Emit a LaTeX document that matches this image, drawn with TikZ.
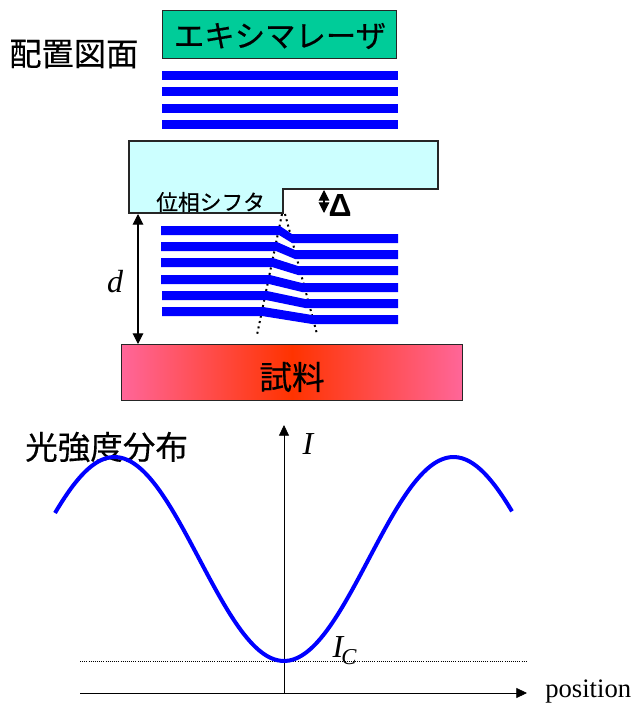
\documentclass[tikz,border=0pt]{standalone}
\usepackage{fontspec}
\setmainfont{Liberation Serif}
\newfontfamily\jp[FakeBold=0.4]{Noto Sans CJK JP}
\newfontfamily\symf{Liberation Sans}
\usetikzlibrary{arrows.meta}
\definecolor{beam}{HTML}{0000FF}
\definecolor{laser}{HTML}{00CC99}
\definecolor{shifter}{HTML}{CCFFFF}
\definecolor{spink}{HTML}{FF6699}
\definecolor{sred}{HTML}{FF3300}
\pgfdeclarehorizontalshading{samplefade}{100bp}{color(0bp)=(spink);color(25bp)=(spink);color(50bp)=(sred);color(75bp)=(spink);color(100bp)=(spink)}
\tikzset{
  boxline/.style={draw=black!85,line width=0.8pt},
  jptext/.style={inner sep=0pt,font=\jp,text=black},
  thinarrow/.style={black,line width=0.6pt,-{Triangle[length=8pt,width=7.5pt]}},
  dbl/.style={black,line width=0.8pt,{Triangle[length=8pt,width=8pt]}-{Triangle[length=8pt,width=8pt]}},
  beamrow/.style={fill=beam,draw=none},
  dots/.style={black,line width=1.5pt,dash pattern=on 1.5pt off 2.6pt},
}
\begin{document}
\begin{tikzpicture}[x=0.75pt,y=-0.75pt]
\useasboundingbox (0,0) rectangle (633,703);
% top beams
\foreach \y in {71,87,104,120}
  \fill[beamrow] (162,\y) rectangle (398,\y+9);
% laser
\node[boxline,fill=laser,minimum width=175.5pt,minimum height=36pt,inner sep=0pt,anchor=north west] (laser) at (162,10) {};
\node[jptext,font=\jp\fontsize{22.8}{24}\selectfont] (lasertext) at (280,36) {エキシマレーザ};
\node[jptext,font=\jp\fontsize{24.2}{26}\selectfont,anchor=west] (layout) at (9,54) {配置図面};
% phase shifter
\draw[boxline,fill=shifter] (129,141) -- (438,141) -- (438,189) -- (283,189) -- (283,213) -- (129,213) -- cycle;
\node[jptext,font=\jp\fontsize{16.3}{18}\selectfont,anchor=west] (shiftertext) at (156,202) {位相シフタ};
% dotted edges
\coordinate (edgeL) at (282,214);
\coordinate (edgeR) at (285,214);
\coordinate (endL) at (257,335);
\coordinate (endR) at (317,334);
\draw[dots] (edgeL) -- (endL);
\draw[dots] (edgeR) -- (endR);
% bent beams
\foreach \y/\xa/\xb/\xs in {226/280/292/161,242/277/295/161,258/273/298/161,275/270/302/161,291/267/305/162,307/263/312/162}
  \fill[beamrow] (\xs,\y) -- (\xa,\y) -- (\xb,\y+8) -- (398,\y+8) -- (398,\y+17) -- (\xb,\y+17) -- (\xa-1,\y+9) -- (\xs,\y+9) -- cycle;
% sample
\node[boxline,shading=samplefade,minimum width=255.75pt,minimum height=42pt,inner sep=0pt,anchor=north west] (sample) at (121,344) {};
\node[jptext,font=\jp\fontsize{24.5}{26}\selectfont] (sampletext) at (292,377) {試料};
% d
\coordinate (dtop) at (138,214);
\coordinate (dbot) at (138,344);
\draw[dbl] (dtop) -- (dbot);
\node[inner sep=0pt,font=\fontsize{24}{26}\selectfont\itshape] (dlabel) at (115,282) {d};
% delta
\coordinate (deltop) at (324,190);
\coordinate (delbot) at (324,213);
\draw[black,line width=0.8pt,{Triangle[length=8pt,width=8pt]}-{Triangle[length=8pt,width=8pt]}] (deltop) -- (delbot);
\node[inner sep=0pt,font=\symf\bfseries\fontsize{24}{26}\selectfont] (delta) at (340,205) {Δ};
% graph
\node[jptext,font=\jp\fontsize{24.4}{26}\selectfont,anchor=west] (dist) at (25,447) {光強度分布};
\coordinate (xstart) at (80,693);
\coordinate (xend) at (527,693);
\coordinate (ystart) at (284,693);
\coordinate (yend) at (284,425);
\coordinate (dotL) at (80,661);
\coordinate (dotR) at (526,661);
\draw[black,line width=0.5pt,dash pattern=on 0.7pt off 0.9pt] (dotL) -- (dotR);
\draw[thinarrow] (xstart) -- (xend);
\draw[thinarrow] (ystart) -- (yend);
\draw[beam,line width=3pt,smooth] plot[domain=55:512,samples=120] (\x,{559+102*cos((\x-284)/339*360)});
\node[inner sep=0pt,font=\fontsize{24}{26}\selectfont\itshape] (Ilabel) at (308,444) {I};
\node[inner sep=0pt,font=\fontsize{24}{26}\selectfont\itshape] (Iclabel) at (338,647) {I};
\node[inner sep=0pt,font=\fontsize{17}{18}\selectfont\itshape] (Icsub) at (349,657) {C};
\node[inner sep=0pt,font=\fontsize{20}{22}\selectfont,anchor=west] (pos) at (545,692) {position};
\end{tikzpicture}
\end{document}
